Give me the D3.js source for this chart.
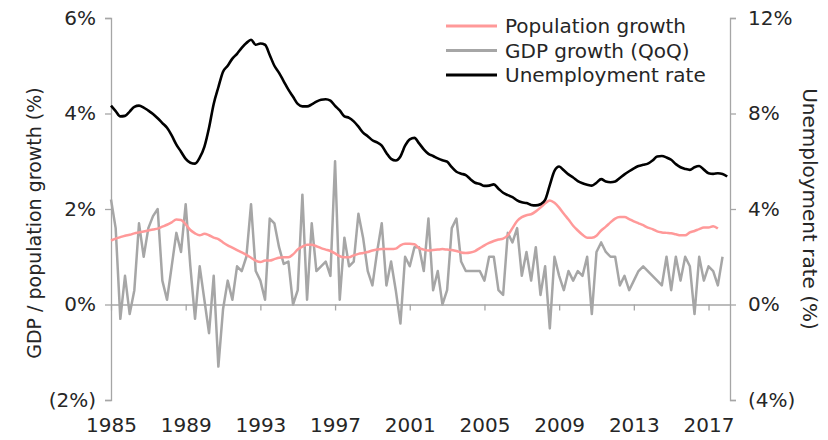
<!DOCTYPE html>
<meta charset="utf-8">
<head>
<title>Population, GDP growth and unemployment</title>
<script src="https://cdnjs.cloudflare.com/ajax/libs/d3/7.8.5/d3.min.js" charset="utf-8"></script>
<style type="text/css">
body {margin: 0; background: #fff;}
text {font-family: "DejaVu Sans", sans-serif; fill: #262626;}
.axis path, .axis line {stroke: #a6a6a6; stroke-width: 1.3;}
</style>
</head>
<body>
<script>
// Quarterly series, first point = 1985 Q1
var startYear = 1985;

// GDP growth QoQ (%), left axis
var gdpGrowth = [
  2.2, 1.6, -0.3, 0.6, -0.2, 0.3, 1.7, 1.0, 1.6, 1.85, 2.0, 0.5, 0.1, 0.8, 1.5, 1.1,
  2.1, 0.8, -0.3, 0.8, 0.1, -0.6, 0.6, -1.3, -0.1, 0.5, 0.1, 0.8, 0.7, 1.0, 2.1, 0.7,
  0.5, 0.1, 1.8, 1.7, 1.2, 0.85, 0.9, 0.0, 0.3, 2.3, 0.1, 1.7, 0.7, 0.8, 0.9, 0.6,
  3.0, 0.1, 1.4, 0.8, 0.9, 1.9, 1.4, 0.7, 0.4, 1.1, 1.7, 0.4, 0.9, 0.3, -0.4, 1.0,
  0.8, 1.2, 1.2, 0.7, 1.8, 0.3, 0.7, 0.0, 0.3, 1.6, 1.8, 0.9, 0.7, 0.7, 0.7, 0.7,
  0.5, 1.0, 1.0, 0.3, 0.2, 1.5, 1.3, 1.6, 0.6, 1.1, 0.5, 1.2, 0.2, 0.8, -0.5, 1.0,
  0.6, 0.3, 0.7, 0.5, 0.7, 0.6, 1.0, -0.2, 1.1, 1.3, 1.1, 1.0, 1.0, 0.4, 0.6, 0.3,
  0.5, 0.7, 0.8, 0.7, 0.6, 0.5, 0.4, 1.0, 0.3, 1.0, 0.5, 1.0, 0.8, -0.2, 1.0, 0.5,
  0.8, 0.7, 0.4, 1.0
];

// Population growth (%), left axis
var popGrowth = [
  1.34, 1.38, 1.41, 1.44, 1.46, 1.49, 1.51, 1.53, 1.55, 1.57, 1.59, 1.63, 1.67, 1.72, 1.78, 1.77,
  1.68, 1.56, 1.49, 1.45, 1.48, 1.45, 1.40, 1.37, 1.30, 1.24, 1.19, 1.14, 1.09, 1.04, 0.98, 0.92,
  0.89, 0.92, 0.92, 0.95, 0.98, 0.99, 0.99, 1.05, 1.15, 1.21, 1.25, 1.25, 1.22, 1.18, 1.15, 1.12,
  1.07, 1.01, 0.99, 0.99, 1.03, 1.06, 1.08, 1.10, 1.13, 1.15, 1.16, 1.16, 1.16, 1.17, 1.24, 1.27,
  1.27, 1.26, 1.18, 1.15, 1.13, 1.14, 1.15, 1.16, 1.15, 1.14, 1.12, 1.09, 1.08, 1.09, 1.12, 1.18,
  1.24, 1.29, 1.33, 1.36, 1.38, 1.45, 1.60, 1.75, 1.83, 1.87, 1.89, 1.95, 2.03, 2.12, 2.18, 2.13,
  2.03, 1.90, 1.78, 1.65, 1.55, 1.46, 1.40, 1.40, 1.44, 1.55, 1.63, 1.72, 1.80, 1.83, 1.83, 1.79,
  1.74, 1.70, 1.66, 1.61, 1.58, 1.53, 1.51, 1.50, 1.49, 1.47, 1.45, 1.45, 1.51, 1.54, 1.58, 1.61,
  1.61, 1.64, 1.59
];

// Unemployment rate (%), right axis
var unemployment = [
  8.33, 8.10, 7.88, 7.90, 8.08, 8.28, 8.33, 8.25, 8.12, 7.98, 7.80, 7.60, 7.40, 7.08, 6.70, 6.40,
  6.10, 5.94, 5.90, 6.15, 6.60, 7.40, 8.40, 9.10, 9.75, 10.0, 10.3, 10.5, 10.75, 10.95, 11.09, 10.88,
  10.93, 10.88, 10.45, 10.0, 9.70, 9.35, 9.00, 8.70, 8.40, 8.30, 8.30, 8.38, 8.50, 8.58, 8.60, 8.54,
  8.32, 8.13, 7.88, 7.82, 7.67, 7.45, 7.20, 7.05, 6.88, 6.79, 6.65, 6.35, 6.10, 6.03, 6.20, 6.65,
  6.92, 6.98, 6.75, 6.50, 6.31, 6.22, 6.12, 6.04, 5.98, 5.75, 5.56, 5.48, 5.42, 5.25, 5.10, 5.05,
  4.97, 4.98, 5.03, 4.85, 4.68, 4.58, 4.50, 4.36, 4.28, 4.25, 4.17, 4.15, 4.20, 4.38, 5.00, 5.60,
  5.78, 5.62, 5.45, 5.32, 5.17, 5.08, 5.02, 4.98, 5.10, 5.25, 5.15, 5.12, 5.15, 5.30, 5.45, 5.58,
  5.70, 5.80, 5.85, 5.90, 6.03, 6.20, 6.22, 6.16, 6.06, 5.88, 5.75, 5.68, 5.64, 5.75, 5.80, 5.65,
  5.50, 5.47, 5.50, 5.47, 5.36
];

var xTickYears = [1985, 1989, 1993, 1997, 2001, 2005, 2009, 2013, 2017];
var leftTicks  = [-2, 0, 2, 4, 6];
var rightTicks = [-4, 0, 4, 8, 12];

var legendLabels = ["Population growth", "GDP growth (QoQ)", "Unemployment rate"];
var seriesColors = ["#ff9999", "#a6a6a6", "#000000"];

// Layout (plot box in pixels)
var width  = 828,
    height = 440,
    plotL  = 111,
    plotR  = 730,
    plotT  = 18,
    plotB  = 400;

var svg = d3.select("body").append("svg")
  .attr("width", width)
  .attr("height", height);

var x = d3.scaleLinear().domain([1985, 2018.15]).range([plotL, plotR]);
var yL = d3.scaleLinear().domain([-2, 6]).range([plotB, plotT]);
var yR = d3.scaleLinear().domain([-4, 12]).range([plotB, plotT]);

function pct(d) { return d < 0 ? "(" + (-d) + "%)" : d + "%"; }
function qx(i) { return x(startYear + i / 4); }

// Axes
svg.append("g")
  .attr("class", "axis")
  .attr("transform", "translate(" + plotL + ",0)")
  .call(d3.axisLeft(yL).tickValues(leftTicks).tickFormat(pct).tickSize(6).tickSizeOuter(6).tickPadding(9));

svg.append("g")
  .attr("class", "axis")
  .attr("transform", "translate(" + plotR + ",0)")
  .call(d3.axisRight(yR).tickValues(rightTicks).tickFormat(pct).tickSize(6).tickSizeOuter(6).tickPadding(12));

// zero line with year ticks
svg.append("g")
  .attr("class", "axis")
  .attr("transform", "translate(0," + yL(0) + ")")
  .call(d3.axisBottom(x).tickValues(xTickYears).tickFormat("").tickSize(6).tickSizeOuter(0));

// year labels at the bottom
var axXl = svg.append("g")
  .attr("transform", "translate(0," + plotB + ")")
  .call(d3.axisBottom(x).tickValues(xTickYears).tickFormat(d3.format("d")).tickSize(0).tickPadding(18));
axXl.select(".domain").remove();

svg.selectAll(".tick text").style("font-size", "20px").style("font-family", "'DejaVu Sans', sans-serif").attr("fill", "#262626");

// Axis titles
svg.append("text")
  .attr("transform", "translate(41,223) rotate(-90)")
  .attr("text-anchor", "middle")
  .style("font-size", "19px")
  .text("GDP / population growth (%)");

svg.append("text")
  .attr("transform", "translate(803," + ((plotT + plotB) / 2) + ") rotate(90)")
  .attr("text-anchor", "middle")
  .style("font-size", "20px")
  .text("Unemployment rate (%)");

// Lines
var popLine = d3.line()
  .x(function(d, i) { return qx(i); })
  .y(function(d) { return yL(d); })
  .curve(d3.curveMonotoneX);

var gdpLine = d3.line()
  .x(function(d, i) { return qx(i); })
  .y(function(d) { return yL(d); });

var unLine = d3.line()
  .x(function(d, i) { return qx(i); })
  .y(function(d) { return yR(d); })
  .curve(d3.curveMonotoneX);

svg.append("path").datum(gdpGrowth)
  .attr("d", gdpLine)
  .style("fill", "none").style("stroke", seriesColors[1]).style("stroke-width", 2.5)
  .style("stroke-linejoin", "round");

svg.append("path").datum(popGrowth)
  .attr("d", popLine)
  .style("fill", "none").style("stroke", seriesColors[0]).style("stroke-width", 2.5);

svg.append("path").datum(unemployment)
  .attr("d", unLine)
  .style("fill", "none").style("stroke", seriesColors[2]).style("stroke-width", 2.6);

// Legend
var legend = svg.append("g").attr("transform", "translate(446,26)");
legendLabels.forEach(function(lab, i) {
  var g = legend.append("g").attr("transform", "translate(0," + (i * 24.5) + ")");
  g.append("line")
    .attr("x1", 0).attr("x2", 51)
    .style("stroke", seriesColors[i]).style("stroke-width", 2.8);
  g.append("text")
    .attr("x", 59).attr("y", 7)
    .style("font-size", "20px")
    .text(lab);
});
</script>
</body>
